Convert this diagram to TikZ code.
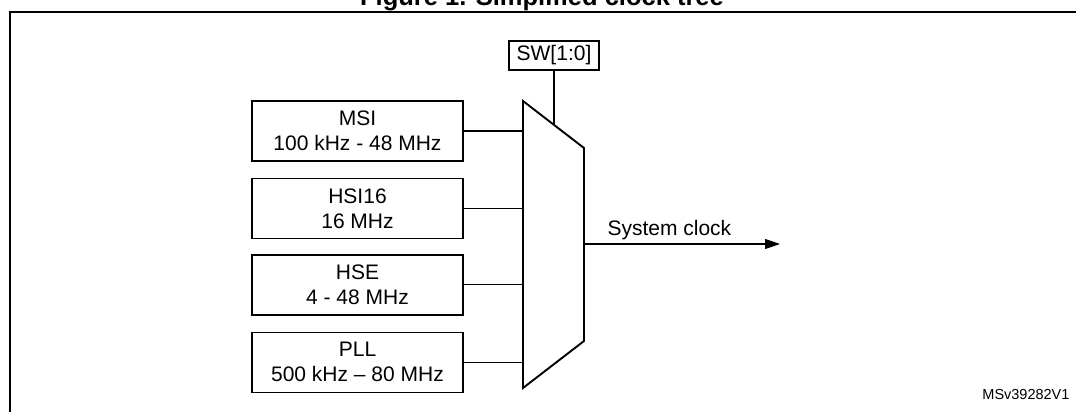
\documentclass[tikz,border=0pt]{standalone}
\usepackage{fontspec}
\setmainfont{Liberation Sans}
\usetikzlibrary{positioning, calc, arrows.meta}

\begin{document}
\begin{tikzpicture}[x=1pt, y=-1pt, >={Triangle[length=15pt, width=10pt]},
    srcbox/.style={draw, line width=1.4pt, minimum width=211pt, minimum height=60pt,
        inner sep=0pt, align=center, font=\fontsize{21}{25}\selectfont},
    wire/.style={line width=1.2pt}]
    % Canvas
    \useasboundingbox (0,0) rectangle (1076,412);
    \clip (0,0) rectangle (1076,412);

    % Title (cut at the top)
    \node[anchor=base, font=\bfseries\fontsize{25.5}{30}\selectfont] (title) at (542,6) {Figure 1. Simplified clock tree};

    % Frame
    \draw[line width=2.2pt] (1090,12) -- (10,12) -- (10,430);

    % Clock sources
    \node[srcbox] (msi) at (357.5,131) {MSI\\100 kHz - 48 MHz};
    \node[srcbox, below=16pt of msi] (hsi) {HSI16\\16 MHz};
    \node[srcbox, below=15pt of hsi] (hse) {HSE\\4 - 48 MHz};
    \node[srcbox, below=16pt of hse] (pll) {PLL\\500 kHz – 80 MHz};

    % Multiplexer corners
    \coordinate (muxTL) at (523,101);
    \coordinate (muxTR) at (584,148);
    \coordinate (muxBR) at (584,341);
    \coordinate (muxBL) at (523,388);
    \draw[line width=1.9pt, line join=miter] (muxTL) -- (muxTR) -- (muxBR) -- (muxBL) -- cycle;

    % Inputs
    \foreach \src in {msi,hsi,hse,pll}
        \draw[wire] (\src.east) -- (\src.east -| muxTL);

    % Select
    \node[draw, line width=1.1pt, minimum width=90pt, minimum height=29pt, inner sep=0pt,
        font=\fontsize{21}{25}\selectfont] (sw) at (554,55.5) {SW[1:0]};
    \coordinate (swIn) at ($(muxTL)!0.508!(muxTR)$);
    \draw[wire] (sw.south) -- (sw.south |- swIn);

    % Output
    \coordinate (clkOut) at (780,244);
    \draw[wire, ->] (muxTR |- clkOut) -- (clkOut);
    \node[anchor=base west, font=\fontsize{21}{25}\selectfont] (clk) at (604,235) {System clock};

    % Drawing number
    \node[anchor=base east, font=\fontsize{14.5}{17}\selectfont] (ref) at (1073,399) {MSv39282V1};
\end{tikzpicture}
\end{document}
